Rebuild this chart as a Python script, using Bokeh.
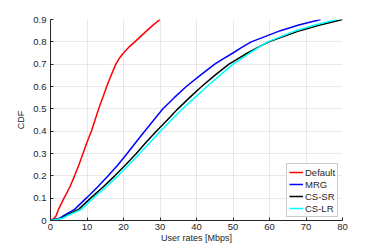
from bokeh.plotting import figure
from bokeh.models import Range1d, FixedTicker, Legend, LegendItem
from bokeh.embed import file_html
from bokeh.resources import INLINE

cdf_levels = [0, 0.01, 0.02, 0.05, 0.1, 0.15, 0.2, 0.25, 0.3, 0.35, 0.4, 0.45,
              0.5, 0.55, 0.6, 0.65, 0.7, 0.725, 0.75, 0.775, 0.8, 0.85, 0.875, 0.9]
default_x = [0, 1.0, 1.5, 2.2, 3.7, 5.3, 6.6, 7.8, 8.9, 10.0, 11.2, 12.2,
             13.2, 14.3, 15.4, 16.6, 17.9, 18.8, 20.0, 21.4, 23.1, 26.4, 28.1, 30.0]
mrg_x = [0, 2.5, 3.4, 6.6, 9.8, 12.9, 15.8, 18.5, 21.0, 23.4, 25.8, 28.3,
         30.8, 33.9, 37.2, 41.0, 45.0, 47.4, 50.0, 52.4, 55.0, 63.0, 68.0, 74.0]
cssr_x = [0, 3.0, 4.0, 7.7, 11.0, 14.4, 17.6, 20.6, 23.5, 26.2, 29.0, 32.0,
          34.9, 38.1, 41.4, 45.0, 48.9, 51.4, 54.0, 56.8, 59.8, 68.3, 73.8, 80.0]
cslr_x = [0, 3.3, 4.4, 8.5, 11.7, 15.2, 18.5, 21.5, 24.4, 27.3, 30.1, 33.1,
          36.2, 39.5, 42.9, 46.4, 50.0, 52.3, 54.6, 57.0, 59.5, 67.2, 72.5, 78.4]

series_names = ["Default", "MRG", "CS-SR", "CS-LR"]
series_x = [default_x, mrg_x, cssr_x, cslr_x]
series_colors = ["#ff0000", "#0000ff", "#000000", "#00ffff"]

x_ticks = [0, 10, 20, 30, 40, 50, 60, 70, 80]
x_tick_labels = ["0", "10", "20", "30", "40", "50", "60", "70", "80"]
y_ticks = [0, 0.1, 0.2, 0.3, 0.4, 0.5, 0.6, 0.7, 0.8, 0.9]
y_tick_labels = ["0", "0.1", "0.2", "0.3", "0.4", "0.5", "0.6", "0.7", "0.8", "0.9"]

FONT = "Liberation Sans"
TXT = "#262626"

p = figure(width=370, height=246, output_backend="svg", toolbar_location=None,
           x_range=Range1d(0, 80), y_range=Range1d(0, 0.9),
           min_border_left=50, min_border_right=28, min_border_top=19, min_border_bottom=26)
p.outline_line_color = None
p.background_fill_color = "white"
p.border_fill_color = "white"

for ax, ticks, labels in [(p.xaxis[0], x_ticks, x_tick_labels), (p.yaxis[0], y_ticks, y_tick_labels)]:
    ax.ticker = FixedTicker(ticks=ticks)
    ax.major_label_overrides = {t: l for t, l in zip(ticks, labels)}
    ax.minor_tick_line_color = None
    ax.major_tick_in = 3
    ax.major_tick_out = 0
    ax.axis_line_color = TXT
    ax.major_tick_line_color = TXT
    ax.major_label_text_color = TXT
    ax.major_label_text_font = FONT
    ax.major_label_text_font_size = "9.5px"
    ax.axis_label_text_font = FONT
    ax.axis_label_text_font_size = "9px"
    ax.axis_label_text_font_style = "normal"
    ax.axis_label_text_color = TXT

p.xaxis.axis_label = "User rates [Mbps]"
p.yaxis.axis_label = "CDF"
p.xaxis.major_label_standoff = 3
p.xaxis.axis_label_standoff = 0
p.yaxis.major_label_standoff = 4
p.yaxis.axis_label_standoff = 4

p.xgrid.ticker = FixedTicker(ticks=x_ticks)
p.ygrid.ticker = FixedTicker(ticks=y_ticks)
p.grid.grid_line_color = "#262626"
p.grid.grid_line_alpha = 0.1

items = []
for name, xs, col in zip(series_names, series_x, series_colors):
    r = p.line(xs, cdf_levels, line_color=col, line_width=1.5)
    items.append(LegendItem(label=name, renderers=[r]))

legend = Legend(items=items, location=(236, 3))
legend.label_text_font = FONT
legend.label_text_font_size = "9.5px"
legend.label_text_color = TXT
legend.padding = 2
legend.spacing = 0
legend.margin = 0
legend.label_height = 12
legend.glyph_height = 12
legend.glyph_width = 14
legend.label_standoff = 2
legend.border_line_color = "#999999"
legend.background_fill_color = "white"
legend.background_fill_alpha = 1
p.add_layout(legend)

open("out.html", "w").write(file_html(p, INLINE))
